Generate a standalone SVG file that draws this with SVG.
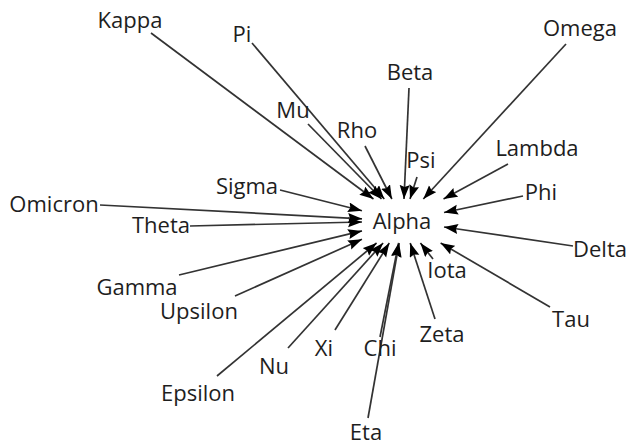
<svg xmlns="http://www.w3.org/2000/svg" width="631" height="446" viewBox="0 0 631 446">
<defs>
<style>
.lbl{font-family:"Open Sans","Noto Sans","DejaVu Sans",sans-serif;font-size:22px;fill:#1e1e1e;text-anchor:middle}
.edge{stroke:#333;stroke-width:1.7;fill:none;marker-end:url(#ah)}
</style>
<marker id="ah" markerUnits="userSpaceOnUse" markerWidth="15" markerHeight="11" refX="14" refY="5" orient="auto">
<path d="M0,0 L14,5 L0,10 L2,5 Z" fill="#000"/>
</marker>
</defs>
<rect width="631" height="446" fill="#fff"/>
<g id="connectors">
<line class="edge" x1="151" y1="33" x2="373.5" y2="199"/>
<line class="edge" x1="252" y1="43" x2="384.3" y2="199"/>
<line class="edge" x1="308" y1="124" x2="381.5" y2="199"/>
<line class="edge" x1="365" y1="146" x2="391.9" y2="199"/>
<line class="edge" x1="409" y1="88" x2="404" y2="199"/>
<line class="edge" x1="417" y1="177" x2="410" y2="199"/>
<line class="edge" x1="566" y1="44" x2="423.3" y2="199"/>
<line class="edge" x1="508" y1="164" x2="443.5" y2="199"/>
<line class="edge" x1="523" y1="196" x2="444" y2="212.5"/>
<line class="edge" x1="573" y1="246" x2="444" y2="227"/>
<line class="edge" x1="550" y1="307" x2="440.6" y2="243"/>
<line class="edge" x1="433" y1="259" x2="420.4" y2="243"/>
<line class="edge" x1="435" y1="319" x2="410.2" y2="243"/>
<line class="edge" x1="380" y1="337" x2="398.6" y2="243"/>
<line class="edge" x1="368" y1="418" x2="399.1" y2="243"/>
<line class="edge" x1="335" y1="330" x2="389.3" y2="243"/>
<line class="edge" x1="288" y1="348" x2="383.1" y2="243"/>
<line class="edge" x1="217" y1="376" x2="376.6" y2="243"/>
<line class="edge" x1="235" y1="296" x2="362" y2="239.3"/>
<line class="edge" x1="179" y1="275" x2="362" y2="230.9"/>
<line class="edge" x1="190" y1="226" x2="362" y2="222"/>
<line class="edge" x1="100" y1="205" x2="362" y2="218.8"/>
<line class="edge" x1="280" y1="190" x2="362" y2="210.7"/>
</g>
<g id="alpha"><text class="lbl" x="402" y="229">Alpha</text></g>
<g id="kappa"><text class="lbl" x="130" y="28">Kappa</text></g>
<g id="pi"><text class="lbl" x="242" y="42">Pi</text></g>
<g id="mu"><text class="lbl" x="293" y="118">Mu</text></g>
<g id="rho"><text class="lbl" x="357" y="138">Rho</text></g>
<g id="beta"><text class="lbl" x="410" y="80">Beta</text></g>
<g id="psi"><text class="lbl" x="421" y="168">Psi</text></g>
<g id="omega"><text class="lbl" x="580" y="36">Omega</text></g>
<g id="lambda"><text class="lbl" x="537" y="156">Lambda</text></g>
<g id="phi"><text class="lbl" x="541" y="200">Phi</text></g>
<g id="delta"><text class="lbl" x="600" y="257">Delta</text></g>
<g id="tau"><text class="lbl" x="571" y="327">Tau</text></g>
<g id="iota"><text class="lbl" x="447" y="278">Iota</text></g>
<g id="zeta"><text class="lbl" x="442" y="342">Zeta</text></g>
<g id="chi"><text class="lbl" x="380" y="356">Chi</text></g>
<g id="eta"><text class="lbl" x="366" y="440">Eta</text></g>
<g id="xi"><text class="lbl" x="324" y="356">Xi</text></g>
<g id="nu"><text class="lbl" x="274" y="374">Nu</text></g>
<g id="epsilon"><text class="lbl" x="198" y="401">Epsilon</text></g>
<g id="upsilon"><text class="lbl" x="199" y="319">Upsilon</text></g>
<g id="gamma"><text class="lbl" x="137" y="295">Gamma</text></g>
<g id="theta"><text class="lbl" x="161" y="233">Theta</text></g>
<g id="omicron"><text class="lbl" x="54" y="212">Omicron</text></g>
<g id="sigma"><text class="lbl" x="247" y="194">Sigma</text></g>
</svg>
